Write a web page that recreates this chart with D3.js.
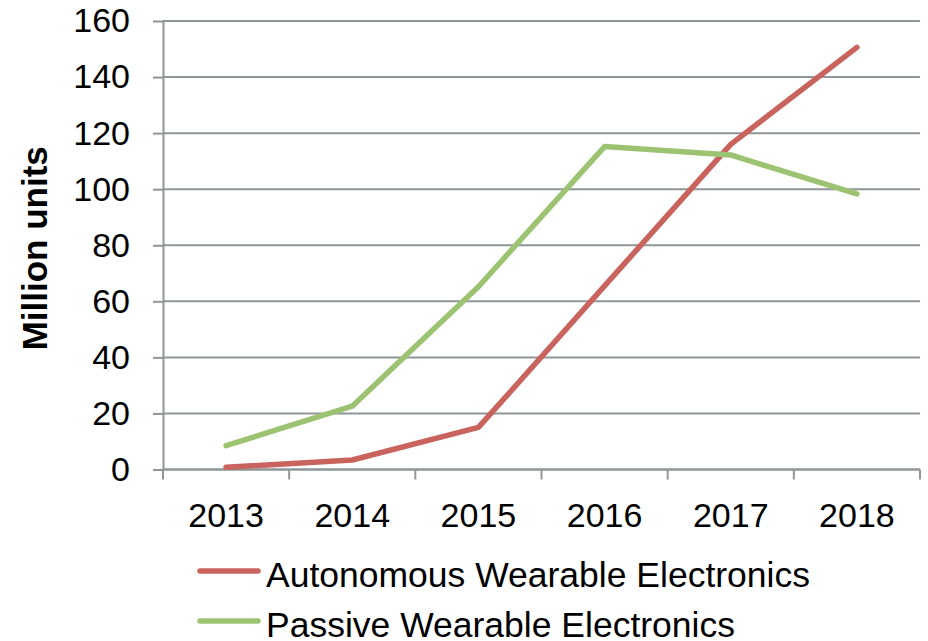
<!DOCTYPE html>
<html>
<head>
  <meta http-equiv="Content-Type" content="text/html;charset=utf-8">
  <title>Wearable Electronics</title>
  <script src="https://d3js.org/d3.v7.min.js"></script>
  <style type="text/css">
    body { margin: 0; background: #fff; }
    text { font-family: "Liberation Sans", Arial, sans-serif; fill: #000; }
    .grid line { stroke: #8e9698; stroke-width: 2px; }
    .axis path, .axis line { stroke: #8e9698; stroke-width: 2px; }
  </style>
</head>
<body>
  <svg width="928" height="641"></svg>
  <script type='text/javascript'>
    const years = ['2013', '2014', '2015', '2016', '2017', '2018'];
    const autonomous = [0.8, 3.4, 15, 65.5, 116, 150.6];
    const passive = [8.5, 22.6, 65.2, 115.2, 112.2, 98.3];
    const yTicks = [0, 20, 40, 60, 80, 100, 120, 140, 160];

    const series = [
      { name: 'Autonomous Wearable Electronics', values: autonomous, color: '#c9635d' },
      { name: 'Passive Wearable Electronics', values: passive, color: '#9cc372' }
    ];

    const svg = d3.select('svg');
    const plotLeft = 163, plotRight = 920, plotTop = 21, plotBottom = 469.5;

    const x = d3.scaleBand().domain(years).range([plotLeft, plotRight]);
    const y = d3.scaleLinear().domain([0, 160]).range([plotBottom, plotTop]);

    // horizontal gridlines
    svg.append('g').attr('class', 'grid')
      .selectAll('line')
      .data(yTicks)
      .enter().append('line')
        .attr('x1', plotLeft).attr('x2', plotRight)
        .attr('y1', (d) => y(d)).attr('y2', (d) => y(d));

    // y axis
    const yAxis = svg.append('g').attr('class', 'axis')
      .attr('transform', `translate(${plotLeft},0)`)
      .call(d3.axisLeft(y).tickValues(yTicks).tickSize(10).tickSizeOuter(0).tickPadding(23));
    yAxis.selectAll('text').style('font-size', '34px');

    // x axis
    const xAxis = svg.append('g').attr('class', 'axis')
      .attr('transform', `translate(0,${plotBottom})`)
      .call(d3.axisBottom(x).tickSize(0).tickPadding(33));
    xAxis.select('.domain').remove();
    xAxis.selectAll('text').style('font-size', '34px');
    svg.append('line')
      .attr('x1', plotLeft).attr('x2', plotRight)
      .attr('y1', plotBottom).attr('y2', plotBottom)
      .attr('stroke', '#8e9698').attr('stroke-width', 2);
    svg.append('g').selectAll('line')
      .data(d3.range(years.length + 1))
      .enter().append('line')
        .attr('x1', (i) => plotLeft + i * x.bandwidth())
        .attr('x2', (i) => plotLeft + i * x.bandwidth())
        .attr('y1', plotBottom).attr('y2', plotBottom + 10)
        .attr('stroke', '#8e9698').attr('stroke-width', 2);

    // y title
    svg.append('text')
      .attr('transform', `translate(47,${(plotTop + plotBottom) / 2 + 3}) rotate(-90)`)
      .attr('text-anchor', 'middle')
      .style('font-size', '35px')
      .style('font-weight', 'bold')
      .text('Million units');

    // lines
    const line = d3.line()
      .x((d, i) => x(years[i]) + x.bandwidth() / 2)
      .y((d) => y(d));

    svg.selectAll('path.series')
      .data(series)
      .enter().append('path')
        .attr('class', 'series')
        .attr('d', (s) => line(s.values))
        .attr('fill', 'none')
        .attr('stroke', (s) => s.color)
        .attr('stroke-width', 5.5)
        .attr('stroke-linejoin', 'round')
        .attr('stroke-linecap', 'round');

    // legend
    const legend = svg.selectAll('g.legend')
      .data(series)
      .enter().append('g')
        .attr('class', 'legend')
        .attr('transform', (s, i) => `translate(0,${571 + i * 50})`);
    legend.append('line')
      .attr('x1', 200).attr('x2', 258)
      .attr('y1', 0).attr('y2', 0)
      .attr('stroke', (s) => s.color)
      .attr('stroke-width', 5.5)
      .attr('stroke-linecap', 'round');
    legend.append('text')
      .attr('x', 266).attr('y', 15.5)
      .style('font-size', '35.5px')
      .text((s) => s.name);
  </script>
</body>
</html>
